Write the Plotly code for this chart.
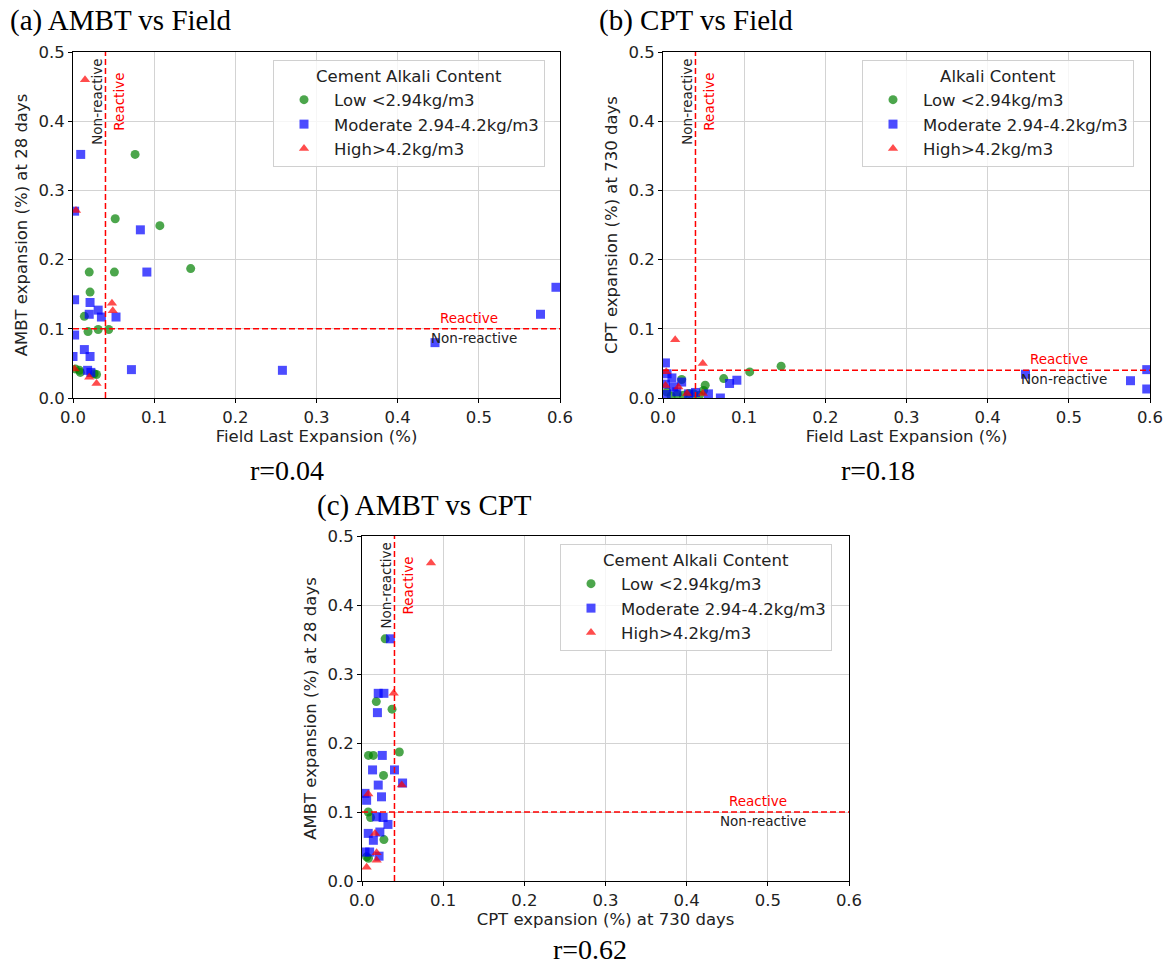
import plotly.graph_objects as go

W, H = 1169, 968

# ---------------- data ----------------
# Panel (a): AMBT (y) vs Field (x)
a_low_x = [0.0765, 0.052, 0.107, 0.145, 0.020, 0.051, 0.021, 0.014, 0.0185, 0.031, 0.044, 0.003, 0.008, 0.009, 0.026, 0.029]
a_low_y = [0.352, 0.259, 0.249, 0.187, 0.182, 0.182, 0.153, 0.118, 0.096, 0.099, 0.099, 0.042, 0.040, 0.037, 0.035, 0.034]
a_mod_x = [0.0095, 0.002, 0.083, 0.091, 0.002, 0.021, 0.031, 0.020, 0.035, 0.053, 0.002, 0.014, 0.021, 0.0, 0.072, 0.018, 0.022, 0.258, 0.446, 0.576, 0.595]
a_mod_y = [0.352, 0.270, 0.243, 0.182, 0.142, 0.138, 0.127, 0.121, 0.117, 0.117, 0.091, 0.070, 0.060, 0.060, 0.041, 0.040, 0.037, 0.040, 0.080, 0.121, 0.160]
a_high_x = [0.0148, 0.0037, 0.048, 0.049, 0.002, 0.020, 0.029]
a_high_y = [0.460, 0.271, 0.137, 0.126, 0.042, 0.030, 0.021]

# Panel (b): CPT (y) vs Field (x)
b_low_x = [0.1455, 0.1068, 0.0748, 0.023, 0.052, 0.050, 0.032, 0.005, 0.0176, 0.010, 0.025, 0.045, 0.038]
b_low_y = [0.046, 0.0377, 0.028, 0.0267, 0.0184, 0.011, 0.0064, 0.0087, 0.0055, 0.003, 0.004, 0.004, 0.006]
b_mod_x = [0.003, 0.082, 0.091, 0.005, 0.011, 0.023, 0.013, 0.017, 0.0315, 0.040, 0.056, 0.0707, 0.004, 0.003, 0.4466, 0.576, 0.596, 0.596]
b_mod_y = [0.0507, 0.021, 0.0257, 0.035, 0.029, 0.023, 0.016, 0.009, 0.006, 0.008, 0.006, 0.0, 0.005, 0.020, 0.0343, 0.025, 0.041, 0.013]
b_high_x = [0.015, 0.049, 0.004, 0.003, 0.019, 0.0296, 0.049]
b_high_y = [0.084, 0.050, 0.038, 0.018, 0.016, 0.0064, 0.0064]

# Panel (c): AMBT (y) vs CPT (x)
c_low_x = [0.0285, 0.0176, 0.037, 0.046, 0.008, 0.014, 0.0265, 0.0077, 0.0106, 0.027, 0.0057, 0.008]
c_low_y = [0.351, 0.260, 0.249, 0.187, 0.182, 0.182, 0.153, 0.100, 0.092, 0.060, 0.035, 0.033]
c_mod_x = [0.035, 0.020, 0.027, 0.019, 0.025, 0.013, 0.040, 0.050, 0.020, 0.0037, 0.024, 0.0057, 0.018, 0.026, 0.032, 0.0077, 0.022, 0.014, 0.0037, 0.0094, 0.021]
c_mod_y = [0.351, 0.272, 0.272, 0.244, 0.182, 0.161, 0.161, 0.142, 0.139, 0.127, 0.122, 0.117, 0.093, 0.092, 0.082, 0.069, 0.071, 0.059, 0.042, 0.042, 0.036]
c_high_x = [0.085, 0.039, 0.049, 0.0077, 0.016, 0.018, 0.018, 0.0057]
c_high_y = [0.461, 0.272, 0.139, 0.126, 0.069, 0.041, 0.030, 0.020]

tick_vals_x = [0.0, 0.1, 0.2, 0.3, 0.4, 0.5, 0.6]
tick_vals_y = [0.0, 0.1, 0.2, 0.3, 0.4, 0.5]

series_names = ["Low <2.94kg/m3", "Moderate 2.94-4.2kg/m3", "High>4.2kg/m3"]
series_colors = ["rgba(0,128,0,0.7)", "rgba(0,0,255,0.7)", "rgba(255,0,0,0.7)"]
series_symbols = ["circle", "square", "triangle-up"]

panels = [
    dict(xa="x", ya="y", leg="legend", data=[(a_low_x, a_low_y), (a_mod_x, a_mod_y), (a_high_x, a_high_y)],
         hline=0.1, vline=0.04),
    dict(xa="x2", ya="y2", leg="legend2", data=[(b_low_x, b_low_y), (b_mod_x, b_mod_y), (b_high_x, b_high_y)],
         hline=0.04, vline=0.04),
    dict(xa="x3", ya="y3", leg="legend3", data=[(c_low_x, c_low_y), (c_mod_x, c_mod_y), (c_high_x, c_high_y)],
         hline=0.1, vline=0.04),
]

FONT = "DejaVu Sans"
SERIF = "Liberation Serif"
TXT = "#222"
FS = 16.5

fig = go.Figure()
for p in panels:
    for (xs, ys), nm, col, sym in zip(p["data"], series_names, series_colors, series_symbols):
        fig.add_trace(go.Scatter(
            x=xs, y=ys, mode="markers", name=nm, xaxis=p["xa"], yaxis=p["ya"], legend=p["leg"],
            marker=dict(color=col, symbol=sym, size=9, line=dict(width=0)),
            cliponaxis=True,
        ))

def px2x(px):
    return px / W

def px2y(py):
    return 1 - py / H

doms = {
    "a": ([px2x(73), px2x(560)], [px2y(398), px2y(52)]),
    "b": ([px2x(663), px2x(1150)], [px2y(398), px2y(52)]),
    "c": ([px2x(362), px2x(849)], [px2y(881), px2y(536)]),
}

xtitles = ["Field Last Expansion (%)", "Field Last Expansion (%)", "CPT expansion (%) at 730 days"]
ytitles = ["AMBT expansion (%) at 28 days", "CPT expansion (%) at 730 days", "AMBT expansion (%) at 28 days"]

def axis_common():
    return dict(
        showline=True, linecolor="black", linewidth=1, mirror=True,
        showgrid=True, gridcolor="#d3d3d3", gridwidth=1,
        ticks="outside", ticklen=4, tickcolor="black",
        zeroline=False, automargin=False,
        tickfont=dict(family=FONT, size=FS, color=TXT),
        title_font=dict(family=FONT, size=FS, color=TXT),
    )

layout = dict(width=W, height=H, margin=dict(l=0, r=0, t=0, b=0),
              plot_bgcolor="white", paper_bgcolor="white", showlegend=True)

for i, key in enumerate(["a", "b", "c"]):
    sfx = "" if i == 0 else str(i + 1)
    xd, yd = doms[key]
    xa = axis_common()
    xa.update(domain=xd, range=[0, 0.6], tickvals=tick_vals_x, tickformat=".1f",
              anchor="y" + sfx, title=dict(text=xtitles[i], standoff=4))
    ya = axis_common()
    ya.update(domain=yd, range=[0, 0.5], tickvals=tick_vals_y, tickformat=".1f",
              anchor="x" + sfx, title=dict(text=ytitles[i], standoff=6))
    layout["xaxis" + sfx] = xa
    layout["yaxis" + sfx] = ya

leg_common = dict(
    bgcolor="rgba(255,255,255,0.8)", bordercolor="#d0d0d0", borderwidth=1,
    font=dict(family=FONT, size=FS, color=TXT), xanchor="left", yanchor="top",
    itemsizing="trace", itemwidth=50,
)
layout["legend"] = dict(leg_common, x=px2x(273), y=px2y(60),
                        title=dict(text="Cement Alkali Content", side="top center", font=dict(family=FONT, size=FS, color=TXT)))
layout["legend2"] = dict(leg_common, x=px2x(862), y=px2y(60),
                         title=dict(text="Alkali Content", side="top center", font=dict(family=FONT, size=FS, color=TXT)))
layout["legend3"] = dict(leg_common, x=px2x(560), y=px2y(544),
                         title=dict(text="Cement Alkali Content", side="top center", font=dict(family=FONT, size=FS, color=TXT)))

fig.update_layout(**layout)

# reference lines and labels
for i, p in enumerate(panels):
    sfx = "" if i == 0 else str(i + 1)
    xr, yr = "x" + sfx, "y" + sfx
    fig.add_shape(type="line", xref=xr, yref=yr, x0=0, x1=0.6, y0=p["hline"], y1=p["hline"],
                  line=dict(color="red", width=1.5, dash="6px,3px"))
    fig.add_shape(type="line", xref=xr, yref=yr, x0=p["vline"], x1=p["vline"], y0=0, y1=0.5,
                  line=dict(color="red", width=1.5, dash="6px,3px"))
    # horizontal labels
    fig.add_annotation(xref=xr, yref=yr, x=0.488, y=p["hline"] + 0.016, text="Reactive", showarrow=False,
                       font=dict(family=FONT, size=13.5, color="red"))
    fig.add_annotation(xref=xr, yref=yr, x=0.494, y=p["hline"] - 0.013, text="Non-reactive", showarrow=False,
                       font=dict(family=FONT, size=13.5, color=TXT))
    # vertical labels
    fig.add_annotation(xref=xr, yref=yr, x=p["vline"] - 0.0105, y=0.428, text="Non-reactive", showarrow=False,
                       textangle=-90, font=dict(family=FONT, size=13.5, color=TXT))
    fig.add_annotation(xref=xr, yref=yr, x=p["vline"] + 0.0165, y=0.428, text="Reactive", showarrow=False,
                       textangle=-90, font=dict(family=FONT, size=13.5, color="red"))

# panel titles
titles = [("(a) AMBT vs Field", 8, 20), ("(b) CPT vs Field", 597, 20), ("(c) AMBT vs CPT", 315, 505)]
for t, x, y in titles:
    fig.add_annotation(xref="paper", yref="paper", x=px2x(x), y=px2y(y), xanchor="left", yanchor="middle",
                       text=t, showarrow=False, font=dict(family=SERIF, size=29, color="black"))

rlabels = [("r=0.04", 287, 470), ("r=0.18", 878, 470), ("r=0.62", 590, 949)]
for t, x, y in rlabels:
    fig.add_annotation(xref="paper", yref="paper", x=px2x(x), y=px2y(y), xanchor="center", yanchor="middle",
                       text=t, showarrow=False, font=dict(family=SERIF, size=28, color="black"))

fig.write_html("out.html")
